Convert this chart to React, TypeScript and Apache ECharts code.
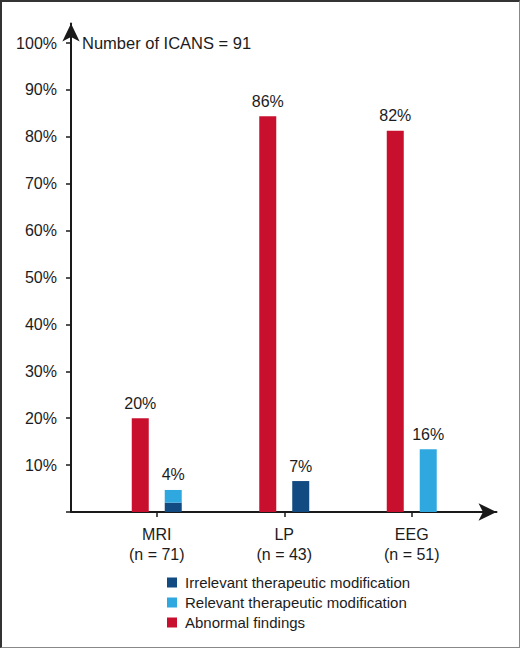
import React, { useEffect, useRef } from "react";
import * as echarts from "echarts";

const categories = ["MRI\n(n = 71)", "LP\n(n = 43)", "EEG\n(n = 51)"];
const abnormal = [20, 84.4, 81.3];
const irrelevant: (number | string)[] = [2.0, 6.6, "-"];
const relevant: (number | string)[] = [2.7, "-", 13.4];
const abnormalLabels = ["20%", "86%", "82%"];
const irrelevantLabels = ["", "7%", ""];
const relevantLabels = ["4%", "", "16%"];
const seriesNames = [
  "Irrelevant therapeutic modification",
  "Relevant therapeutic modification",
  "Abnormal findings",
];
const titleText = "Number of ICANS = 91";

const FONT = "'Liberation Sans', Arial, Helvetica, sans-serif";
const TXT = "#1c1c1c";
const AX = "#1a1a1a";
const RED = "#C8102E";
const DARK = "#124A82";
const LIGHT = "#2FA8E0";

export default function App() {
  const ref = useRef<HTMLDivElement>(null);
  useEffect(() => {
    if (!ref.current) return;
    const chart = echarts.init(ref.current, undefined, { renderer: "svg" });
    const labelCfg = (labels: string[]) => ({
      show: true,
      position: "top",
      distance: 7,
      fontSize: 16,
      fontFamily: FONT,
      color: TXT,
      formatter: (p: any) => labels[p.dataIndex] || "",
    });
    chart.setOption({
      animation: false,
      textStyle: { fontFamily: FONT },
      title: {
        text: titleText,
        left: 82,
        top: 34.5,
        padding: 0,
        textStyle: { fontSize: 16.5, fontWeight: "normal", color: TXT, fontFamily: FONT },
      },
      legend: {
        orient: "vertical",
        left: 167,
        top: 575,
        padding: 0,
        itemWidth: 10,
        itemHeight: 10,
        itemGap: 5,
        icon: "rect",
        data: seriesNames,
        textStyle: { fontSize: 15, color: TXT, fontFamily: FONT, padding: [0, 0, 0, 3] },
      },
      grid: [
        { left: 93, right: 44.5, top: 43, bottom: 136 },
        { left: 71, right: 23.5, top: 23.5, bottom: 136 },
      ],
      xAxis: [
        {
          type: "category",
          gridIndex: 0,
          data: categories,
          axisLine: { show: false },
          axisTick: { show: true, alignWithLabel: true, length: 5, lineStyle: { color: AX, width: 1.5 } },
          axisLabel: { fontSize: 16, lineHeight: 20, margin: 12, color: TXT, fontFamily: FONT },
        },
        {
          type: "value",
          gridIndex: 1,
          min: 0,
          max: 1,
          axisLine: {
            show: true,
            symbol: ["none", "arrow"],
            symbolSize: [13, 18],
            lineStyle: { color: AX, width: 2 },
          },
          axisTick: { show: false },
          axisLabel: { show: false },
          splitLine: { show: false },
        },
      ],
      yAxis: [
        {
          type: "value",
          gridIndex: 0,
          min: 0,
          max: 100,
          interval: 10,
          offset: 22,
          axisLine: { show: false },
          axisTick: { show: true, length: 5, lineStyle: { color: AX, width: 1.5 } },
          axisLabel: {
            fontSize: 16,
            margin: 14,
            color: TXT,
            fontFamily: FONT,
            formatter: (v: number) => (v === 0 ? "" : v + "%"),
          },
          splitLine: { show: false },
        },
        {
          type: "value",
          gridIndex: 1,
          min: 0,
          max: 1,
          axisLine: {
            show: true,
            symbol: ["none", "arrow"],
            symbolSize: [13, 18],
            lineStyle: { color: AX, width: 2 },
          },
          axisTick: { show: false },
          axisLabel: { show: false },
          splitLine: { show: false },
        },
      ],
      series: [
        {
          name: seriesNames[2],
          type: "bar",
          xAxisIndex: 0,
          yAxisIndex: 0,
          data: abnormal,
          barWidth: 17,
          barGap: "94%",
          itemStyle: { color: RED },
          label: labelCfg(abnormalLabels),
        },
        {
          name: seriesNames[0],
          type: "bar",
          xAxisIndex: 0,
          yAxisIndex: 0,
          stack: "mod",
          data: irrelevant,
          barWidth: 17,
          barGap: "94%",
          itemStyle: { color: DARK },
          label: labelCfg(irrelevantLabels),
        },
        {
          name: seriesNames[1],
          type: "bar",
          xAxisIndex: 0,
          yAxisIndex: 0,
          stack: "mod",
          data: relevant,
          barWidth: 17,
          barGap: "94%",
          itemStyle: { color: LIGHT },
          label: labelCfg(relevantLabels),
        },
      ],
    });
    return () => chart.dispose();
  }, []);
  return (
    <div
      style={{
        position: "fixed",
        left: 0,
        top: 0,
        width: 520,
        height: 648,
        boxSizing: "border-box",
        borderTop: "2px solid #333",
        borderLeft: "2px solid #333",
        borderRight: "1px solid #888",
        borderBottom: "1px solid #888",
        background: "#fff",
      }}
    >
      <div ref={ref} style={{ position: "absolute", left: -2, top: -2, width: 520, height: 648 }} />
    </div>
  );
}
